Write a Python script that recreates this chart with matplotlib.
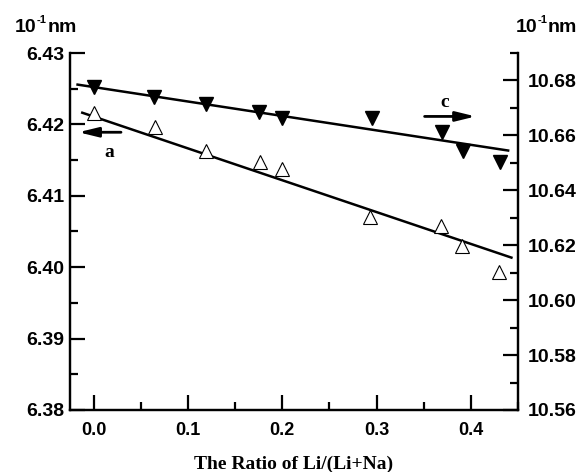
import numpy as np
import matplotlib.pyplot as plt
from matplotlib.ticker import MultipleLocator

# ratio Li/(Li+Na)
x_a = [0.0, 0.065, 0.119, 0.176, 0.200, 0.293, 0.368, 0.391, 0.430]
y_a = [6.4216, 6.4196, 6.4163, 6.4147, 6.4138, 6.4070, 6.4058, 6.4030, 6.3993]
x_c = [0.0, 0.064, 0.119, 0.175, 0.200, 0.295, 0.369, 0.392, 0.431]
y_c = [10.6778, 10.6738, 10.6713, 10.6684, 10.6665, 10.6662, 10.6611, 10.6542, 10.6502]

# linear fits as drawn in the figure: (intercept, slope, x start, x end)
fit_a = (6.4211, -0.0446, -0.012, 0.443)
fit_c = (10.6776, -0.0526, -0.017, 0.4395)

xticks = [0.0, 0.1, 0.2, 0.3, 0.4]
yticks_a = [6.38, 6.39, 6.40, 6.41, 6.42, 6.43]
yticks_c = [10.56, 10.58, 10.60, 10.62, 10.64, 10.66, 10.68]

plt.rcParams['font.family'] = 'Liberation Sans'
plt.rcParams['font.weight'] = 'bold'

fig = plt.figure(figsize=(5.86, 4.72), dpi=100)
ax = fig.add_axes([0.1195, 0.1314, 0.7645, 0.7563])
ax2 = ax.twinx()

xa = np.array(fit_a[2:])
xc = np.array(fit_c[2:])
ax.plot(xa, fit_a[0] + fit_a[1]*xa, c='k', lw=1.8)
ax.plot(x_a, y_a, ls='none', marker='^', ms=9.5, mfc='white', mec='k', mew=0.8)
ax2.plot(xc, fit_c[0] + fit_c[1]*xc, c='k', lw=1.8)
ax2.plot(x_c, y_c, ls='none', marker='v', ms=9.5, mfc='k', mec='k')

ax.set_xlim(-0.025, 0.45)
ax.set_ylim(6.38, 6.43)
ax2.set_ylim(10.56, 10.69)
ax.set_xticks(xticks)
ax.set_yticks(yticks_a)
ax2.set_yticks(yticks_c)
ax.set_xticklabels(['%.1f' % v for v in xticks])
ax.set_yticklabels(['%.2f' % v for v in yticks_a])
ax2.set_yticklabels(['%.2f' % v for v in yticks_c])
ax.xaxis.set_minor_locator(MultipleLocator(0.05))
ax.yaxis.set_minor_locator(MultipleLocator(0.005))
ax2.yaxis.set_minor_locator(MultipleLocator(0.01))

for a in (ax, ax2):
    a.spines['top'].set_visible(False)
    for s in a.spines.values():
        s.set_linewidth(1.6)
    a.tick_params(which='major', direction='in', length=11, width=1.6, labelsize=14, pad=6)
    a.tick_params(which='minor', direction='in', length=6, width=1.6)
ax.tick_params(axis='x', labelsize=13, pad=9)
ax.tick_params(axis='y', left=True, right=False, pad=4)
ax2.tick_params(axis='y', left=False, right=True, pad=7)

ax.set_xlabel('The Ratio of Li/(Li+Na)', family='Liberation Serif', fontweight='bold', fontsize=14, labelpad=12)

for xpos in (0.026, 0.880):
    fig.text(xpos, 0.932, '10', fontsize=14, fontweight='bold')
    fig.text(xpos + 0.037, 0.952, '-1', fontsize=8, fontweight='bold')
    fig.text(xpos + 0.055, 0.932, 'nm', fontsize=14, fontweight='bold')

arrow = dict(arrowstyle='-|>,head_length=0.9,head_width=0.22', color='k', lw=2, mutation_scale=13)
ax.annotate('', xy=(-0.019, 6.4189), xytext=(0.032, 6.4189), arrowprops=arrow)
ax.text(0.017, 6.4160, 'a', family='Liberation Serif', fontweight='bold', fontsize=14,
        ha='center', va='center')
ax2.annotate('', xy=(0.408, 10.6669), xytext=(0.348, 10.6669), arrowprops=arrow)
ax2.text(0.372, 10.6720, 'c', family='Liberation Serif', fontweight='bold', fontsize=14,
         ha='center', va='center')

plt.savefig('out.png', dpi=100)
